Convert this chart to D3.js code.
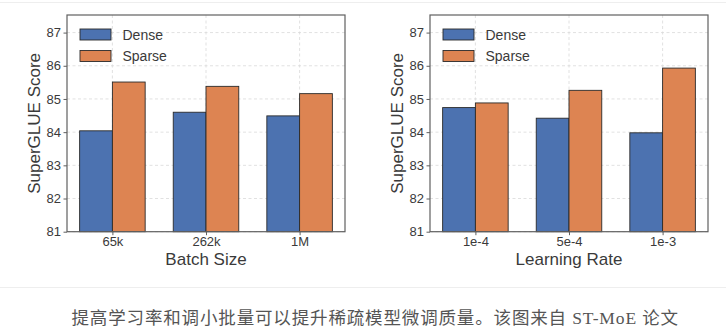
<!DOCTYPE html>
<html><head><meta charset="utf-8">
<script src="https://cdn.jsdelivr.net/npm/d3@7"></script>
<style>
html,body{margin:0;padding:0;background:#fff;}
svg{display:block;}
</style></head>
<body>
<svg id="chart" width="726" height="335"></svg>
<script>
const seriesNames = ["Dense", "Sparse"];
const batchCategories = ["65k", "262k", "1M"];
const batchDense = [84.04, 84.60, 84.49];
const batchSparse = [85.51, 85.38, 85.16];
const lrCategories = ["1e-4", "5e-4", "1e-3"];
const lrDense = [84.74, 84.42, 83.98];
const lrSparse = [84.88, 85.26, 85.93];
const yTicks = [81, 82, 83, 84, 85, 86, 87];
const captionText = "提高学习率和调小批量可以提升稀疏模型微调质量。该图来自 ST-MoE 论文";

const colors = ["#4C72B0", "#DD8452"];
const svg = d3.select("#chart");
const FONT = "'Liberation Sans', Arial, Helvetica, sans-serif";

svg.append("line").attr("x1",0).attr("x2",726).attr("y1",2.5).attr("y2",2.5).attr("stroke","#eeeeee");
svg.append("line").attr("x1",0).attr("x2",726).attr("y1",287.5).attr("y2",287.5).attr("stroke","#eeeeee");

function panel(ox, cats, dense, sparse, xlabel) {
  const L = ox + 67, R = ox + 345, T = 15, B = 231.7;
  const g = svg.append("g");
  const x = d3.scaleLinear().domain([-0.485, 2.485]).range([L, R]);
  const y = d3.scaleLinear().domain([81, 87.53]).range([B, T]);
  const bw = 0.35;

  g.selectAll(".hg").data(yTicks).enter().append("line")
    .attr("x1", L).attr("x2", R).attr("y1", d => y(d)).attr("y2", d => y(d))
    .attr("stroke", "#d9d9d9").attr("stroke-width", 0.8).attr("stroke-dasharray", "3,2.5");
  g.selectAll(".vg").data(cats).enter().append("line")
    .attr("x1", (d,i) => x(i)).attr("x2", (d,i) => x(i)).attr("y1", T).attr("y2", B)
    .attr("stroke", "#d9d9d9").attr("stroke-width", 0.8).attr("stroke-dasharray", "3,2.5");

  [dense, sparse].forEach((vals, s) => {
    g.selectAll(".b" + s).data(vals).enter().append("rect")
      .attr("x", (d,i) => x(i + (s === 0 ? -bw : 0)))
      .attr("width", x(bw) - x(0))
      .attr("y", d => y(d))
      .attr("height", d => y(81) - y(d))
      .attr("fill", colors[s])
      .attr("stroke", "#2a2a2a").attr("stroke-width", 0.9);
  });

  g.append("rect").attr("x", L).attr("y", T).attr("width", R - L).attr("height", B - T)
    .attr("fill", "none").attr("stroke", "#606060").attr("stroke-width", 1.2);

  const ya = d3.axisLeft(y).tickValues(yTicks).tickSize(3.5).tickPadding(2.5).tickFormat(d3.format("d"));
  const yg = g.append("g").attr("transform", `translate(${L},0)`).call(ya);
  yg.attr("font-size", null).attr("font-family", null);
  yg.select(".domain").remove();
  yg.selectAll(".tick line").attr("stroke", "#606060").attr("stroke-width", 1);
  yg.selectAll(".tick text").attr("fill", "#3a3a3a").style("font-family", FONT).style("font-size", "13px");

  const xa = d3.axisBottom(x).tickValues([0,1,2]).tickSize(3.5).tickPadding(2).tickFormat(i => cats[i]);
  const xg = g.append("g").attr("transform", `translate(0,${B})`).call(xa);
  xg.attr("font-size", null).attr("font-family", null);
  xg.select(".domain").remove();
  xg.selectAll(".tick line").attr("stroke", "#606060").attr("stroke-width", 1);
  xg.selectAll(".tick text").attr("fill", "#3a3a3a").style("font-family", FONT).style("font-size", "13px");

  g.append("text").attr("x", (L + R) / 2).attr("y", 264.5).attr("text-anchor", "middle")
    .attr("fill", "#3a3a3a").style("font-family", FONT).style("font-size", "17px").text(xlabel);
  g.append("text").attr("transform", `translate(${ox + 40},${(T + B) / 2}) rotate(-90)`)
    .attr("text-anchor", "middle").attr("fill", "#3a3a3a")
    .style("font-family", FONT).style("font-size", "17px").text("SuperGLUE Score");

  seriesNames.forEach((n, s) => {
    const ly = 29 + s * 21.5;
    g.append("rect").attr("x", ox + 80).attr("y", ly).attr("width", 31).attr("height", 11)
      .attr("fill", colors[s]).attr("stroke", "#2a2a2a").attr("stroke-width", 0.9);
    g.append("text").attr("x", ox + 122.5).attr("y", ly + 10.5)
      .attr("fill", "#3a3a3a").style("font-family", FONT).style("font-size", "14px").text(n);
  });
}

panel(0, batchCategories, batchDense, batchSparse, "Batch Size");
panel(363, lrCategories, lrDense, lrSparse, "Learning Rate");

svg.append("text").attr("x", 71.5).attr("y", 324)
  .attr("fill", "#555").style("font-family", "'Liberation Serif', 'Noto Sans CJK SC', serif")
  .style("font-size", "17.5px").style("letter-spacing", "0.85px").text(captionText);
</script>
</body></html>
